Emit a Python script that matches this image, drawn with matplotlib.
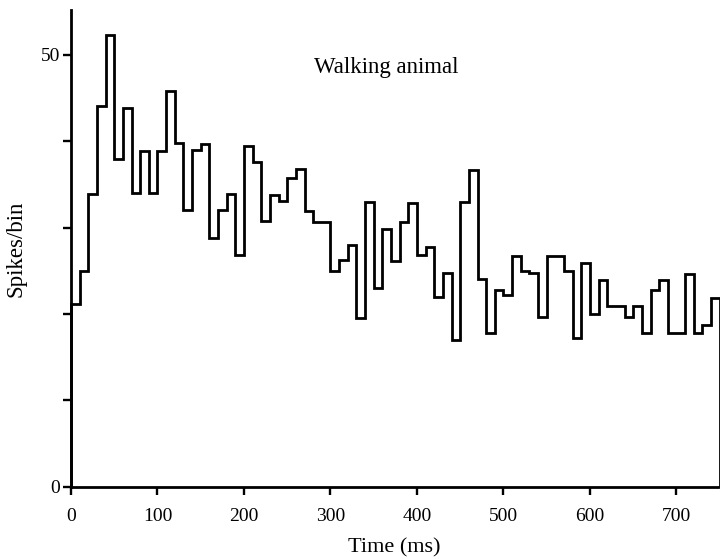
import numpy as np
import matplotlib
matplotlib.use('Agg')
import matplotlib.pyplot as plt

# spikes per 10 ms bin
bin_width = 10
spikes = [21.2, 25.0, 33.9, 44.1, 52.3, 37.9, 43.8, 34.0, 38.9, 34.0,
          38.9, 45.8, 39.8, 32.0, 39.0, 39.7, 28.8, 32.0, 33.9, 26.8,
          39.5, 37.6, 30.8, 33.8, 33.1, 35.8, 36.8, 31.9, 30.7, 30.7,
          25.0, 26.2, 28.0, 19.5, 33.0, 23.0, 29.9, 26.1, 30.7, 32.9,
          26.8, 27.8, 22.0, 24.7, 17.0, 33.0, 36.7, 24.1, 17.8, 22.8,
          22.2, 26.7, 25.0, 24.7, 19.7, 26.7, 26.7, 25.0, 17.2, 25.9,
          20.0, 23.9, 20.9, 20.9, 19.7, 20.9, 17.8, 22.8, 23.9, 17.8,
          17.8, 24.6, 17.8, 18.7, 21.8]

x_ticks = [0, 100, 200, 300, 400, 500, 600, 700]
y_ticks = [0, 10, 20, 30, 40, 50]
y_ticklabels = ['0', '', '', '', '', '50']


def main():
    plt.rcParams['font.family'] = ['Liberation Serif', 'DejaVu Serif']
    fig = plt.figure(figsize=(7.2, 5.59), dpi=100)
    ax = fig.add_axes([0.0986, 0.1293, 0.8986, 0.8528])

    edges = np.arange(len(spikes) + 1) * bin_width
    ax.stairs(spikes, edges, color='black', linewidth=2.0, baseline=0,
              clip_on=False)

    ax.set_xlim(0, 748)
    ax.set_ylim(0, 55.2)

    for side in ['top', 'right']:
        ax.spines[side].set_visible(False)
    for side in ['left', 'bottom']:
        ax.spines[side].set_linewidth(2.0)

    ax.set_xticks(x_ticks)
    ax.set_yticks(y_ticks)
    ax.set_yticklabels(y_ticklabels)
    ax.tick_params(axis='both', direction='out', length=6, width=1.7,
                   labelsize=14)
    ax.tick_params(axis='x', pad=9)
    ax.tick_params(axis='y', pad=2)

    ax.set_xlabel('Time (ms)', fontsize=16, labelpad=10)
    ax.set_ylabel('Spikes/bin', fontsize=16.5, labelpad=10)
    ax.text(365, 48.5, 'Walking animal', fontsize=16.5, ha='center',
            va='center')

    fig.savefig('out.png', dpi=100)
    plt.close(fig)


if __name__ == '__main__':
    main()
